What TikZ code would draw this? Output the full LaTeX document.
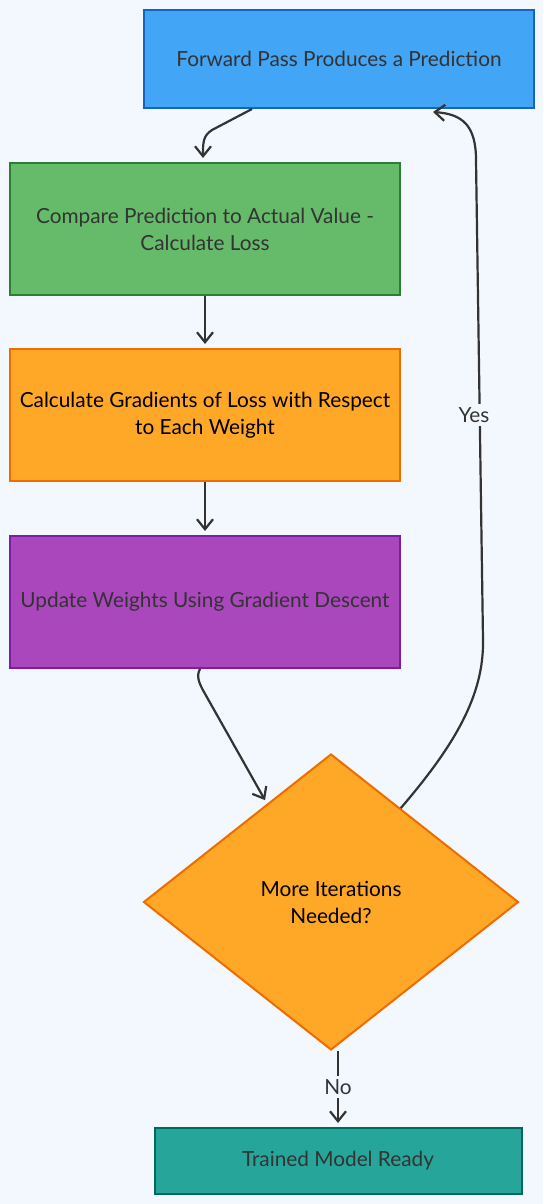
\documentclass[tikz,border=0pt]{standalone}
\usepackage{fontspec}
\setmainfont{Lato}
\usetikzlibrary{shapes.geometric,arrows.meta,calc}
\definecolor{bgcol}{HTML}{F3F8FE}
\definecolor{inkcol}{HTML}{333333}
\definecolor{bluefill}{HTML}{42A5F5}
\definecolor{blueline}{HTML}{1565C0}
\definecolor{greenfill}{HTML}{66BB6A}
\definecolor{greenline}{HTML}{2E7D32}
\definecolor{orangefill}{HTML}{FFA726}
\definecolor{orangeline}{HTML}{EF6C00}
\definecolor{purplefill}{HTML}{AB47BC}
\definecolor{purpleline}{HTML}{7B1FA2}
\definecolor{tealfill}{HTML}{26A69A}
\definecolor{tealline}{HTML}{00695C}
\begin{document}
\begin{tikzpicture}[
			x=0.5pt, y=-0.5pt,
			every node/.style={font=\fontsize{10.4}{13.5}\selectfont, text=inkcol},
			stagebox/.style={draw, line width=1pt, rectangle, align=center,
				minimum width=195pt, minimum height=66pt, inner sep=2pt},
			choice/.style={draw, line width=1pt, diamond, align=center,
				minimum width=187.5pt, minimum height=148pt, inner sep=0pt},
			flow/.style={draw=inkcol, line width=1.1pt,
				-{Straight Barb[length=5pt,width=8pt]}},
			answer/.style={fill=bgcol, inner sep=1.5pt}
		]
		% Background
		\fill[bgcol] (0,0) rectangle (543,1204);
		\useasboundingbox (0,0) rectangle (543,1204);

		% Nodes
		\node[stagebox, fill=bluefill, draw=blueline, minimum height=49pt] (fwd) at (339,59) {Forward Pass Produces a Prediction};
		\node[stagebox, fill=greenfill, draw=greenline] (cmp) at (205,229) {Compare Prediction to Actual Value -\\Calculate Loss};
		\node[stagebox, fill=orangefill, draw=orangeline, text=black] (grad) at (205,415) {Calculate Gradients of Loss with Respect\\to Each Weight};
		\node[stagebox, fill=purplefill, draw=purpleline] (upd) at (205,602) {Update Weights Using Gradient Descent};
		\node[choice, fill=orangefill, draw=orangeline, text=black] (more) at (331,902) {More Iterations\\Needed?};
		\node[stagebox, fill=tealfill, draw=tealline, minimum width=183.5pt, minimum height=33pt] (done) at (338,1161) {Trained Model Ready};

		% Connections
		\draw[flow] ($(fwd.south)+(-87,0)$) -- (212,130) .. controls (203,136) and (203,142) .. ($(cmp.north)+(-2,-4)$);
		\draw[flow] (cmp) -- ($(grad.north)+(0,-4)$);
		\draw[flow] (grad) -- ($(upd.north)+(0,-4)$);
		\draw[flow] ($(upd.south)+(-5,0)$) .. controls (196,676) and (199,683) .. (204,692) -- ($(more.north)!0.35!(more.west)+(0,-5)$);
		\draw[flow] ($(more.north)!0.37!(more.east)$) .. controls (455,745) and (484,695) .. (483,640)
			-- (476,160) .. controls (476,125) and (462,114) .. ($(fwd.south)+(94,3)$);
		\node[answer] (yeslbl) at (474,415) {Yes};
		\draw[flow] ($(more.south)+(7,0)$) -- ($(done.north)+(0,-4)$) node[answer, midway] (nolbl) {No};
	\end{tikzpicture}
\end{document}
